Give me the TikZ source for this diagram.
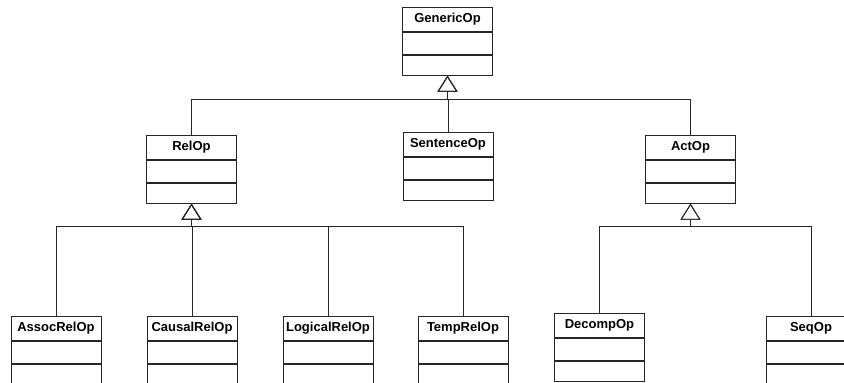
\documentclass[tikz,border=0pt]{standalone}
\usepackage{fontspec}
\setmainfont{Liberation Sans}
\usetikzlibrary{arrows.meta}

% One UML class box: header with the name, then two empty compartments.
% #1 node name, #2 x of centre, #3 y of top edge, #4 class name
\newcommand\umlclass[4]{%
  \node[clshead] (#1) at (#2,#3) {#4};
  \node[clsattr, anchor=north] (#1-a) at (#1.south) {};
  \node[clsops,  anchor=north] (#1-b) at (#1-a.south) {};
}

\begin{document}
\begin{tikzpicture}[x=1pt, y=-1pt,
  clsbox/.style={draw=black!85, line width=0.9pt, fill=white, inner sep=0pt,
                 minimum width=90pt},
  clshead/.style={clsbox, anchor=north, minimum height=24pt,
                  font=\fontsize{13}{15}\selectfont\bfseries},
  clsattr/.style={clsbox, minimum height=22pt},
  clsops/.style={clsbox, minimum height=20pt},
  inherit/.style={draw=black!85, line width=0.9pt,
                  -{Triangle[open, length=16pt, width=20pt]}},
]
\useasboundingbox (0,0) rectangle (844,383);

% classes
\umlclass{generic}{447.5}{7}{GenericOp}
\umlclass{relop}{191.5}{135}{RelOp}
\umlclass{sentence}{448}{132}{SentenceOp}
\umlclass{actop}{690.5}{135}{ActOp}
\umlclass{assoc}{56}{316}{AssocRelOp}
\umlclass{causal}{192}{316}{CausalRelOp}
\umlclass{logical}{328}{316}{LogicalRelOp}
\umlclass{temp}{463}{316}{TempRelOp}
\umlclass{decomp}{599.5}{313}{DecompOp}
\umlclass{seq}{811}{316}{SeqOp}

% junction points of the inheritance trees, below each parent
\coordinate (genbus) at ([yshift=-24pt]generic-b.south);
\coordinate (relbus) at ([yshift=-23pt]relop-b.south);
\coordinate (actbus) at ([yshift=-23pt]actop-b.south);

% generalisations into GenericOp
\foreach \c in {relop, sentence, actop}
  \draw[inherit] (\c.north) |- (genbus) -- (generic-b.south);

% generalisations into RelOp
\foreach \c in {assoc, causal, logical, temp}
  \draw[inherit] (\c.north) |- (relbus) -- (relop-b.south);

% generalisations into ActOp
\foreach \c in {decomp, seq}
  \draw[inherit] (\c.north) |- (actbus) -- (actop-b.south);
\end{tikzpicture}
\end{document}
